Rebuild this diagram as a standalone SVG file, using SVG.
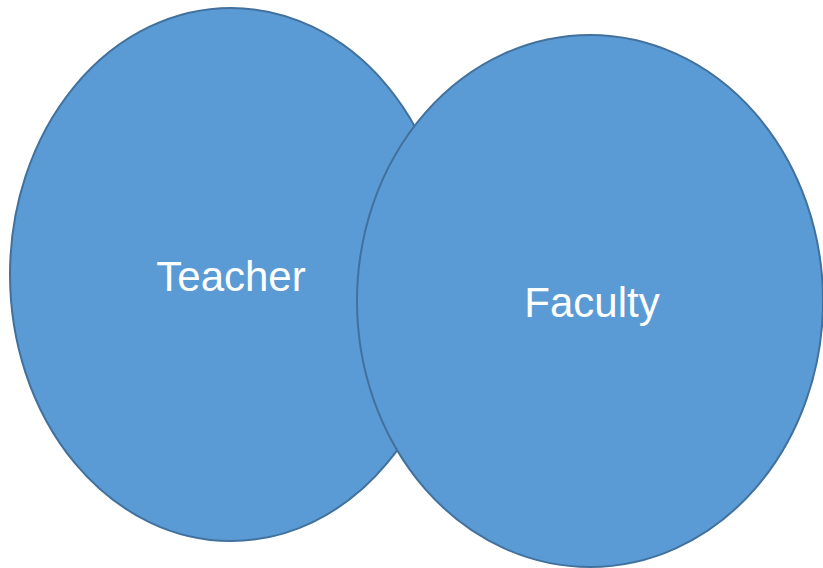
<svg xmlns="http://www.w3.org/2000/svg" width="823" height="568" viewBox="0 0 823 568">
<style>
.shape{fill:#5B9BD5;stroke:#41719C;stroke-width:2}
.lbl{font-family:"Liberation Sans","Open Sans",sans-serif;font-size:42px;fill:#FFFFFF;text-anchor:middle}
</style>
<rect width="823" height="568" fill="#FFFFFF"/>
<g id="teacher">
<ellipse class="shape" cx="231" cy="274.5" rx="221" ry="266.5"/>
<text class="lbl" x="231" y="291">Teacher</text>
</g>
<g id="faculty">
<ellipse class="shape" cx="590" cy="301" rx="233" ry="266"/>
<text class="lbl" x="592" y="317">Faculty</text>
</g>
<g id="connectors"></g>
</svg>
